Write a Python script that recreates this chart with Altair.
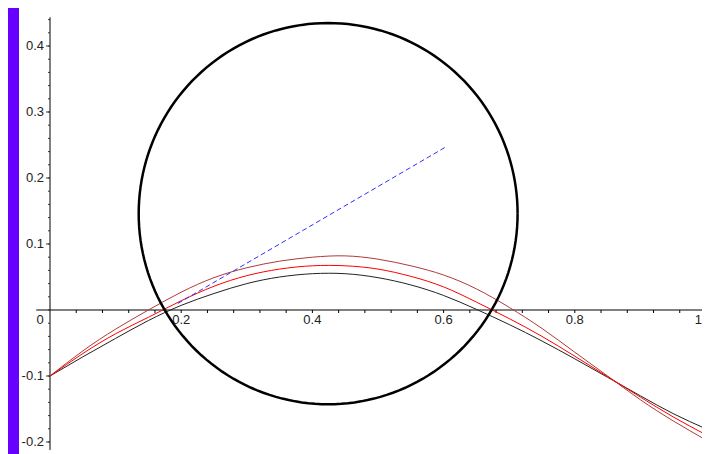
import altair as alt
import pandas as pd

# ---- data ----
x_pts = [0.0, 0.05, 0.10, 0.15, 0.20, 0.25, 0.30, 0.35, 0.40, 0.45, 0.50,
         0.55, 0.60, 0.65, 0.70, 0.75, 0.80, 0.85, 0.90, 0.95, 1.00]
black_y = [-0.100, -0.071, -0.043, -0.016, 0.007, 0.025, 0.040, 0.050, 0.055, 0.055, 0.049,
           0.038, 0.022, 0.001, -0.022, -0.047, -0.074, -0.102, -0.130, -0.157, -0.180]
red_y = [-0.100, -0.066, -0.036, -0.011, 0.014, 0.036, 0.052, 0.062, 0.067, 0.067, 0.062,
         0.051, 0.035, 0.012, -0.013, -0.040, -0.070, -0.101, -0.132, -0.162, -0.189]
darkred_y = [-0.100, -0.062, -0.029, 0.000, 0.027, 0.049, 0.064, 0.074, 0.080, 0.082, 0.077,
             0.067, 0.053, 0.032, 0.004, -0.028, -0.064, -0.100, -0.136, -0.168, -0.197]

circle_cx, circle_cy, circle_r = 0.424, 0.146, 0.2888

dash_x = [0.195, 0.605]
dash_y = [0.010, 0.248]

xlabel_vals = [0.2, 0.4, 0.6, 0.8]
xlabel_txt = ["0.2", "0.4", "0.6", "0.8"]
ylabel_vals = [0.4, 0.3, 0.2, 0.1, -0.1, -0.2]
ylabel_txt = ["0.4", "0.3", "0.2", "0.1", "-0.1", "-0.2"]

xtick_vals = [round(0.04 * i, 2) for i in range(1, 26)]
ytick_minor = [round(0.02 * i, 2) for i in range(-10, 23)]
ytick_major = [-0.2, -0.1, 0.1, 0.2, 0.3, 0.4]

# ---- scales ----
xs = alt.Scale(domain=[-0.04726, 0.99390], nice=False, zero=False)
ys = alt.Scale(domain=[-0.21818, 0.45758], nice=False, zero=False)
FONT = "Liberation Sans"
FS = 13
TXT = "#222222"


def X(f):
    return alt.X(f, scale=xs, axis=None)


def Y(f):
    return alt.Y(f, scale=ys, axis=None)


# axis lines
axes_df = pd.DataFrame({
    "x": [0.0, -0.021], "x2": [0.0, 1.0],
    "y": [-0.212, 0.0], "y2": [0.4435, 0.0],
})
axes = alt.Chart(axes_df).mark_rule(color="#000000", strokeWidth=1).encode(
    x=X("x:Q"), x2=alt.X2("x2:Q"), y=Y("y:Q"), y2=alt.Y2("y2:Q"))

# x ticks (downward)
xt_df = pd.DataFrame({"v": xtick_vals, "z": [0.0] * len(xtick_vals)})
xticks = alt.Chart(xt_df).mark_rule(color="#000000", strokeWidth=1, y2Offset=3).encode(
    x=X("v:Q"), y=Y("z:Q"), y2=alt.Y2("z:Q"))

# y ticks (leftward)
ytm_df = pd.DataFrame({"v": ytick_minor, "z": [0.0] * len(ytick_minor)})
yticks_minor = alt.Chart(ytm_df).mark_rule(color="#333333", strokeWidth=1, x2Offset=-2).encode(
    y=Y("v:Q"), x=X("z:Q"), x2=alt.X2("z:Q"))
ytM_df = pd.DataFrame({"v": ytick_major, "z": [0.0] * len(ytick_major)})
yticks_major = alt.Chart(ytM_df).mark_rule(color="#333333", strokeWidth=1, x2Offset=-4).encode(
    y=Y("v:Q"), x=X("z:Q"), x2=alt.X2("z:Q"))

# labels
yl_df = pd.DataFrame({"v": ylabel_vals, "t": ylabel_txt, "z": [0.0] * len(ylabel_vals)})
ylabels = alt.Chart(yl_df).mark_text(align="right", baseline="middle", dx=-6,
                                     font=FONT, fontSize=FS, color=TXT).encode(
    x=X("z:Q"), y=Y("v:Q"), text="t:N")
xl_df = pd.DataFrame({"v": xlabel_vals, "t": xlabel_txt, "z": [0.0] * len(xlabel_vals)})
xlabels = alt.Chart(xl_df).mark_text(align="center", baseline="top", dy=4,
                                     font=FONT, fontSize=FS, color=TXT).encode(
    x=X("v:Q"), y=Y("z:Q"), text="t:N")
zero_df = pd.DataFrame({"v": [0.0], "t": ["0"]})
zlabel = alt.Chart(zero_df).mark_text(align="center", baseline="top", dx=-10, dy=4,
                                      font=FONT, fontSize=FS, color=TXT).encode(
    x=X("v:Q"), y=Y("v:Q"), text="t:N")
one_df = pd.DataFrame({"v": [1.0], "z": [0.0], "t": ["1"]})
olabel = alt.Chart(one_df).mark_text(align="right", baseline="top", dx=-4, dy=4,
                                     font=FONT, fontSize=FS, color=TXT).encode(
    x=X("v:Q"), y=Y("z:Q"), text="t:N")

# curves
curves_df = pd.DataFrame({
    "x": x_pts * 3,
    "y": black_y + darkred_y + red_y,
    "s": ["black"] * len(x_pts) + ["darkred"] * len(x_pts) + ["red"] * len(x_pts),
})
curves = alt.Chart(curves_df).mark_line(strokeWidth=1, interpolate="natural", clip=True).encode(
    x=X("x:Q"), y=Y("y:Q"), detail="s:N",
    color=alt.Color("s:N", scale=alt.Scale(domain=["black", "darkred", "red"],
                                           range=["#222222", "#B03A3A", "#FF0000"]),
                    legend=None))

dash_df = pd.DataFrame({"x": dash_x, "y": dash_y})
dashed = alt.Chart(dash_df).mark_line(color="#3030FF", strokeWidth=1, strokeDash=[5, 3]).encode(
    x=X("x:Q"), y=Y("y:Q"))

circle = alt.Chart(alt.sequence(0, 362, 2, as_="t")).transform_calculate(
    cx=f"{circle_cx} + {circle_r} * cos(datum.t * PI / 180)",
    cy=f"{circle_cy} + {circle_r} * sin(datum.t * PI / 180)",
).mark_line(color="#000000", strokeWidth=2.5, clip=True).encode(
    x=X("cx:Q"), y=Y("cy:Q"), order=alt.Order("t:Q"))

chart = alt.layer(
    axes, xticks, yticks_minor, yticks_major, ylabels, xlabels, zlabel, olabel,
    curves, dashed, circle
).properties(
    width=683, height=446,
    padding={"left": 11, "top": 0, "right": 0, "bottom": 0},
    autosize="none",
    background="#6600FF",
).configure_view(fill="white", stroke=None)

chart.save("out.html", embed_options={"renderer": "svg", "actions": False})
